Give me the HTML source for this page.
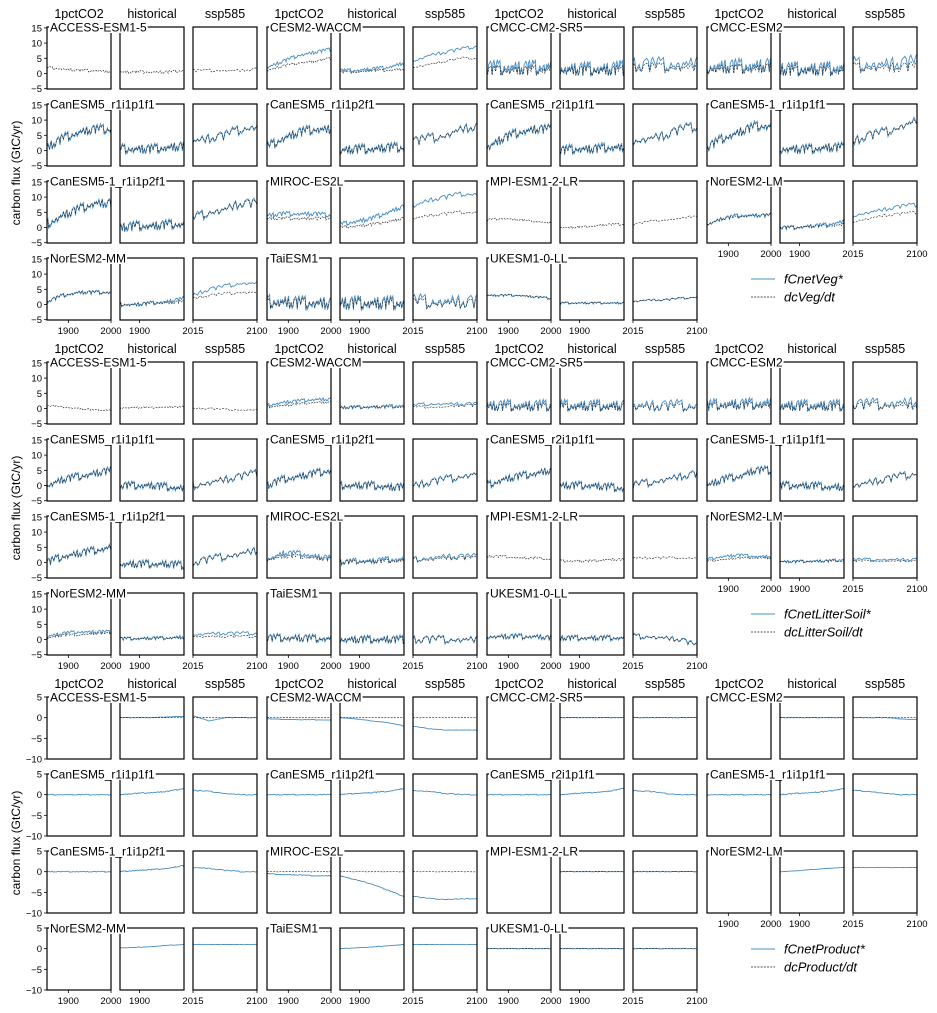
<!DOCTYPE html>
<html><head><meta charset="utf-8">
<style>
html,body{margin:0;padding:0;background:#fff;}
svg{display:block;font-family:"Liberation Sans","DejaVu Sans",sans-serif;}
</style></head>
<body>
<svg id="fig" width="937" height="1013" viewBox="0 0 937 1013" xmlns="http://www.w3.org/2000/svg"></svg>
<script>
// ---------- data ----------
const models = ["ACCESS-ESM1-5","CESM2-WACCM","CMCC-CM2-SR5","CMCC-ESM2","CanESM5_r1i1p1f1","CanESM5_r1i1p2f1","CanESM5_r2i1p1f1","CanESM5-1_r1i1p1f1","CanESM5-1_r1i1p2f1","MIROC-ES2L","MPI-ESM1-2-LR","NorESM2-LM","NorESM2-MM","TaiESM1","UKESM1-0-LL"];
const experiments = ["1pctCO2","historical","ssp585"];
const expYears = [[1850,2000],[1850,2014],[2015,2100]];
const expTicks = [[1900,2000],[1900],[2015,2100]];
const yTicksA = [15,10,5,0,-5];
const yTicksB = [5,0,-5,-10];
// hand-read interannual variability pattern
const wiggle = [0.3,-0.5,0.8,-0.2,0.1,-0.9,0.6,0.2,-0.4,1.0,-0.7,0.0,0.5,-0.3,-0.8,0.7,0.2,-0.6,0.9,-0.1,0.4,-1.0,0.3,0.6,-0.5,-0.2,0.8,-0.8,0.1,0.5,-0.4,0.7,-0.9,0.2,0.0,0.6,-0.3,-0.7,0.9,-0.2,0.4];

// Block 1: fCnetVeg* (blue) and dcVeg/dt (dashed)
const vegF = [
 [null,null,null],
 [[2,4,6,7,8],[1,1,1.5,2,3.5],[4,6,7,8,9]],
 [[2,2,2,2,2.5],[1.5,1.5,1.5,1.5,2],[3,3,3,3,3.5]],
 [[2,2.5,2.5,2.5,3],[1.5,1.5,1.5,1.5,2],[3,3,3,3.5,4]],
 [[1,4,6,7,7],[0.5,0.5,0.5,1,1.5],[3,4,5,7,8]],
 [[1,4,6,7,7],[0,0.5,0.5,1,1],[3,4,5,7,8]],
 [[1,4,6,7,7],[0,0.5,0.5,1,1],[3,4,5,7,8]],
 [[1,4,6,8,8],[0.5,0.5,0.5,1,1],[3,5,6,8,10]],
 [[1,4,6,8,8],[0,0.5,0.5,1,1],[3,5,6,8,8]],
 [[4,4.5,4.5,4.5,4],[1,2,3,5,7],[7,9,10,11,11]],
 [null,null,null],
 [[1,3,4,4,4],[0,0,0.5,1,2],[4,5,6,7,7.5]],
 [[1,3,4,4,4],[0,0,0.5,1,2],[3,5,6,7,7]],
 [[1,1,0.5,0.5,0.5],[0.5,0.5,0.5,0.5,0.5],[1,1,1,1,1]],
 [[3,3,3,2.5,2],[0.5,0.5,0.5,0.5,0.5],[1,1.5,1.5,2,2.5]]
];
const vegD = [
 [[2,1.5,1,1,0.5],[0.5,0.5,0.5,0.5,1],[1,1,1,1,1.5]],
 [[1,2.5,3.5,4,5],[0.5,0.5,1,1,1.5],[2,3,4,5,5]],
 [[1,1,1,1,1.5],[1,1,1,1,1],[2,2,2,2,2]],
 [[1.5,1.5,1.5,1.5,2],[1,1,1,1,1],[2,2,2,2,2.5]],
 [[1,4,6,7,7],[0.5,0.5,0.5,1,1.5],[3,4,5,7,8]],
 [[1,4,6,7,7],[0,0.5,0.5,1,1],[3,4,5,7,8]],
 [[1,4,6,7,7],[0,0.5,0.5,1,1],[3,4,5,7,8]],
 [[1,4,6,8,8],[0.5,0.5,0.5,1,1],[3,5,6,8,9.5]],
 [[1,4,6,8,8],[0,0.5,0.5,1,1],[3,5,6,8,8]],
 [[3,3,3,3,3],[0,0.5,1,2,3],[3,4,4.5,5,5]],
 [[2.5,3,2.5,2,1.5],[0,0,0.5,1,1],[1,2,2.5,3,4]],
 [[1,3,3.5,4,4],[0,0,0.5,0.5,1],[2,3,4,4.5,5]],
 [[1,3,4,4,4],[0,0,0.5,0.5,1],[2,3,3.5,4,4]],
 [[0.5,0.5,0.5,0.5,0.5],[0.3,0.3,0.3,0.3,0.3],[0.5,0.5,0.5,0.5,0.5]],
 [[3,3,3,2.5,2],[0.5,0.5,0.5,0.5,0.5],[1,1.5,1.5,2,2.5]]
];
const vegAmp = [0.7,0.6,2.5,2.5,1.8,1.8,1.8,1.8,1.8,0.8,0.5,0.7,0.7,2.5,0.4];

// Block 2: fCnetLitterSoil* and dcLitterSoil/dt
const soilF = [
 [null,null,null],
 [[1,2,2.5,3,3],[0.3,0.5,0.5,0.7,1],[1,1.5,1.5,1.5,1.5]],
 [[1,1,1,1,1],[1,1,1,1,1],[1,1,1,1,1]],
 [[1,1.5,1.5,1.5,2],[1,1,1,1,1],[1.5,1.5,1.5,2,2]],
 [[0,2,3,4,5],[0,0,0,-0.5,-1],[0,1,2,3,4]],
 [[0,2,3,4,5],[0,0,0,-0.5,-0.5],[0,1,2,3,4]],
 [[0,2,3,4,5],[0,0,0,-0.5,-1],[0,1,2,3,4]],
 [[0,2,3,5,5],[0,0,0,-0.5,-0.5],[0,1,2,3,4]],
 [[0,2,3,4,5],[-0.5,-0.5,-0.5,-0.5,-1],[0,1,2,3,4]],
 [[1,3,3,2,1.5],[0,0.5,0.5,1,1],[1,1.5,2,2,2]],
 [null,null,null],
 [[1,2,2.5,2,2],[0.3,0.3,0.5,0.5,1],[1,1,1,1,1]],
 [[1,2,2.5,2.5,2.5],[0.3,0.3,0.5,0.5,1],[1.5,2,2,2,2]],
 [[0.5,0.5,0.5,0.3,0.3],[0,0,0,0,0],[0,0,0,0,0]],
 [[1,1,1,1,0.5],[0.5,0.5,0.5,0.5,0.5],[1,1,0.5,0,-2]]
];
const soilD = [
 [[1,0.5,0,-0.5,-0.5],[0.3,0.3,0.3,0.5,0.5],[0,0,-0.3,-0.5,-0.5]],
 [[0.5,1,1.5,2,2],[0.3,0.3,0.5,0.5,0.5],[0.5,0.5,0.5,1,1]],
 [[0.5,0.5,0.5,0.5,0.5],[0.5,0.5,0.5,0.5,0.5],[0.5,0.5,0.5,0.5,0.5]],
 [[0.5,1,1,1,1],[0.5,0.5,0.5,0.5,0.5],[1,1,1,1,1]],
 [[0,2,3,4,5],[0,0,0,-0.5,-1],[0,1,2,3,4]],
 [[0,2,3,4,5],[0,0,0,-0.5,-0.5],[0,1,2,3,4]],
 [[0,2,3,4,5],[0,0,0,-0.5,-1],[0,1,2,3,4]],
 [[0,2,3,5,5],[0,0,0,-0.5,-0.5],[0,1,2,3,4]],
 [[0,2,3,4,5],[-0.5,-0.5,-0.5,-0.5,-1],[0,1,2,3,4]],
 [[1,2,2,1.5,1],[0,0.3,0.3,0.5,0.5],[1,1,1.5,1.5,1.5]],
 [[2,2,1.5,1.5,1],[0.5,0.5,0.5,1,1],[1.5,1.5,1.5,1.5,1.5]],
 [[0.5,1,1.5,1.5,1.5],[0.3,0.3,0.3,0.5,0.5],[0.5,0.5,0.5,0.5,0.5]],
 [[0.5,1.5,1.5,2,2],[0.3,0.3,0.3,0.5,0.5],[1,1,1,1,1]],
 [[0.5,0.5,0.5,0.3,0.3],[0,0,0,0,0],[0,0,0,0,0]],
 [[1,1,1,1,0.5],[0.5,0.5,0.5,0.5,0.5],[1,1,0.5,0,-2]]
];
const soilAmp = [0.4,0.6,2,2,1.5,1.5,1.5,1.5,1.5,1,0.6,0.5,0.6,1.5,1];

// Block 3: fCnetProduct* and dcProduct/dt
const prodF = [
 [null,[0,0,0,0.2,0.3],[0.5,-0.8,0,0,0]],
 [[-0.3,-0.4,-0.5,-0.5,-0.6],[0,-0.3,-0.8,-1.2,-2],[-2,-2.7,-3,-3,-3]],
 [null,[0,0,0,0,0],[0,0,0,0,0]],
 [null,[0,0,0,0,0],[0,0,0,-0.3,-0.5]],
 [[0,0,0,0,0],[0,0.3,0.5,0.8,1.5],[1,0.8,0.3,0,0]],
 [[0,0,0,0,0],[0,0.3,0.5,0.8,1.5],[1,0.8,0.3,0,0]],
 [[0,0,0,0,0],[0,0.3,0.5,0.8,1.5],[1,0.8,0.3,0,0]],
 [[0,0,0,0,0],[0,0.3,0.5,0.8,1.5],[1,0.8,0.3,0,0]],
 [[0,0,0,0,0],[0,0.3,0.5,0.8,1.5],[1,0.8,0.3,0,0]],
 [[-0.5,-0.7,-0.8,-1,-1],[-1,-2,-3,-4.5,-6],[-6,-6.5,-6.7,-6.6,-6.5]],
 [null,[0,0,0,0,0],[0,0,0,0,0]],
 [null,[0,0.2,0.5,0.8,1],[1,1,1,1,1]],
 [null,[0.2,0.3,0.5,0.8,1],[1,1,1,1,1]],
 [null,[0,0.2,0.4,0.7,1],[1,1,1,1,1]],
 [[0,0,0,0,0],[0,0,0,0,0],[0,0,0,0,0]]
];
const prodD = [
 [null,[0,0,0,0,0],[0,0,0,0,0]],
 [[0,0,0,0,0],[0,0,0,0,0],[0,0,0,0,0]],
 [null,[0,0,0,0,0],[0,0,0,0,0]],
 [null,[0,0,0,0,0],[0,0,0,0,0]],
 [null,null,null],[null,null,null],[null,null,null],[null,null,null],[null,null,null],
 [[0,0,0,0,0],[0,0,0,0,0],[0,0,0,0,0]],
 [null,[0,0,0,0,0],[0,0,0,0,0]],
 [null,null,null],[null,null,null],[null,null,null],
 [[0,0,0,0,0],[0,0,0,0,0],[0,0,0,0,0]]
];
const prodAmp = [0.05,0.05,0.05,0.05,0.12,0.12,0.12,0.12,0.12,0.1,0.05,0.05,0.05,0.05,0.05];

const blocks = [
 {F:vegF,D:vegD,amp:vegAmp,ylim:[-5.1,15.3],ticks:yTicksA,legF:"fCnetVeg",legD:"dcVeg/dt"},
 {F:soilF,D:soilD,amp:soilAmp,ylim:[-5.1,15.3],ticks:yTicksA,legF:"fCnetLitterSoil",legD:"dcLitterSoil/dt"},
 {F:prodF,D:prodD,amp:prodAmp,ylim:[-10,5],ticks:yTicksB,legF:"fCnetProduct",legD:"dcProduct/dt"}
];
const blockTops = [27,362,697];
const nPts = [75,82,43];

// ---------- drawing ----------
const NS="http://www.w3.org/2000/svg";
const svg=document.getElementById('fig');
function el(tag,attrs,parent){const e=document.createElementNS(NS,tag);for(const k in attrs)e.setAttribute(k,attrs[k]);(parent||svg).appendChild(e);return e;}
const PW=64, PH=62;
let clipId=0;
function interp(a,t){const s=t*(a.length-1);const i=Math.min(Math.floor(s),a.length-2);const f=s-i;return a[i]*(1-f)+a[i+1]*f;}
const labelLayer=[];

blocks.forEach((B,b)=>{
  const top=blockTops[b];
  const g=el('g',{});
  
  
  for(let grp=0;grp<4;grp++)for(let e=0;e<3;e++){
    const t=el('text',{x:47+grp*220+e*73+PW/2,y:top-9,'text-anchor':'middle','font-size':12.5,fill:'#000'},g);
    t.textContent=experiments[e];
    
    
  }
  const yl=el('text',{x:0,y:0,'font-size':12,'text-anchor':'middle',transform:'translate(20,'+(top+146)+') rotate(-90)'},g);
  yl.textContent='carbon flux (GtC/yr)';
  
  
  const [y0v,y1v]=B.ylim;
  models.forEach((m,mi)=>{
    const grp=mi%4,row=Math.floor(mi/4);
    const py=top+row*77;
    for(let e=0;e<3;e++){
      const px=47+grp*220+e*73;
      const ys=v=>py+PH-(v-y0v)/(y1v-y0v)*PH;
      const [ya,yb]=expYears[e];
      const xs=yr=>px+(yr-ya)/(yb-ya)*PW;
      const pg=el('g',{},g);
      
      
      const cid='c'+(clipId++);
      const cp=el('clipPath',{id:cid},pg);
      el('rect',{x:px,y:py,width:PW,height:PH},cp);
      const sg=el('g',{'clip-path':'url(#'+cid+')'},pg);
      const n=nPts[e];
      const seed=(mi*7+e*13+b*5)%wiggle.length;
      const mk=(arr,amp)=>{let d='';for(let k=0;k<n;k++){const t=k/(n-1);const yr=ya+t*(yb-ya);const v=interp(arr,t)+amp*wiggle[(seed+k*3)%wiggle.length];d+=(k?'L':'M')+xs(yr).toFixed(1)+' '+ys(v).toFixed(1);}return d;};
      const fa=B.F[mi][e], da=B.D[mi][e];
      if(fa){const p=el('path',{d:mk(fa,B.amp[mi]),fill:'none',stroke:'#4a8fc4','stroke-width':0.9},sg);
        
        }
      if(da){const p=el('path',{d:mk(da,B.amp[mi]*0.7),fill:'none',stroke:'#222','stroke-width':0.6,'stroke-dasharray':'2 1.2'},sg);
        
        }
      el('rect',{x:px,y:py,width:PW,height:PH,fill:'none',stroke:'#000','stroke-width':1.2},pg);
      if(grp===0&&e===0){
        B.ticks.forEach(tv=>{
          const yy=ys(tv);
          el('line',{x1:px-3,x2:px,y1:yy,y2:yy,stroke:'#000','stroke-width':0.8},pg);
          const tl=el('text',{x:px-5,y:yy+3.5,'text-anchor':'end','font-size':9.5},pg);
          tl.textContent=tv<0?'\u2212'+(-tv):String(tv);
          
          
        });
      }
      const bottom=(grp<3&&row===3)||(grp===3&&row===2);
      if(bottom){
        expTicks[e].forEach(tv=>{
          const xx=xs(tv);
          el('line',{x1:xx,x2:xx,y1:py+PH,y2:py+PH+3,stroke:'#000','stroke-width':0.8},pg);
          const tl=el('text',{x:xx,y:py+PH+14,'text-anchor':'middle','font-size':9.5},pg);
          tl.textContent=String(tv);
          
          
        });
      }
      if(e===0) labelLayer.push([px,py,m]);
    }
  });
  const ly=top+252;
  const lg=el('g',{},g);
  
  
  el('line',{x1:751,x2:775,y1:ly,y2:ly,stroke:'#4a8fc4','stroke-width':1},lg);
  el('line',{x1:751,x2:775,y1:ly+18,y2:ly+18,stroke:'#222','stroke-width':0.7,'stroke-dasharray':'2 1.2'},lg);
  const t1=el('text',{x:784,y:ly+4.5,'font-size':13,'font-style':'italic'},lg);
  t1.textContent=B.legF+'*';
  
  
  const t2=el('text',{x:784,y:ly+22.5,'font-size':13,'font-style':'italic'},lg);
  t2.textContent=B.legD;
  
  
});
// model labels on top layer
const lgTop=el('g',{});


labelLayer.forEach(([px,py,m])=>{
  const bg=el('rect',{x:px+2,y:py-7,width:10,height:13,fill:'#fff'},lgTop);
  const tl=el('text',{x:px+3,y:py+4.5,'font-size':12},lgTop);
  tl.textContent=m;
  
  
  bg.setAttribute('width',tl.getComputedTextLength()+2);
});
</script>
</body></html>
